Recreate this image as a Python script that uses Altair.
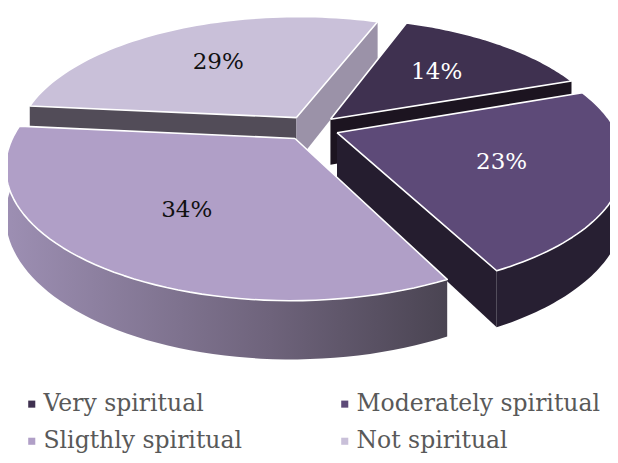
import math
import numpy as np
import pandas as pd
import altair as alt

# ---- data ----
categories = ["Very spiritual", "Moderately spiritual", "Sligthly spiritual", "Not spiritual"]
shares = [14, 23, 34, 29]
pct_labels = ["14%", "23%", "34%", "29%"]

# ---- styles ----
top_colors = ["#3f3150", "#5d4a78", "#b09fc7", "#c9c0d9"]
label_colors = ["#ffffff", "#ffffff", "#111111", "#111111"]
side_colors = {
    ("Not spiritual", "start"): "#524c58",
    ("Not spiritual", "end"): "#9b92a8",
    ("Very spiritual", "end"): "#1c1420",
    ("Moderately spiritual", "end"): "#251d2f",
    ("Moderately spiritual", "rim"): "#271f32",
    ("Sligthly spiritual", "rim"): alt.Gradient(
        gradient="linear",
        stops=[alt.GradientStop(color="#9d8fb3", offset=0),
               alt.GradientStop(color="#6e637b", offset=0.6),
               alt.GradientStop(color="#4a4452", offset=1)],
        x1=0, x2=1, y1=0, y2=0),
}

# ---- 3-D view settings ----
CX, CY = 311.0, 128.0
RX, RY = 278.0, 125.0
PERSP = 0.2
DEPTH = 46.0
EXPLODE = 0.1
START = 20.0
N = 60
LABEL_R = 0.6


def point(u, v, bottom=False):
    s = 1.0 / (1.0 - PERSP * v)
    x, y = CX + RX * u * s, CY + RY * v * s
    if bottom:
        y += DEPTH * s
    return x, y


total = float(sum(shares))
tops, faces, labels = [], [], []
acc = START
for cat, sh, lab in zip(categories, shares, pct_labels):
    a1, a2 = acc, acc + 360.0 * sh / total
    acc = a2
    m = math.radians((a1 + a2) / 2)
    ox, oy = EXPLODE * math.sin(m), -EXPLODE * math.cos(m)

    def uv(deg):
        r = math.radians(deg)
        return ox + math.sin(r), oy - math.cos(r)

    apex_t = point(ox, oy)
    apex_b = point(ox, oy, True)
    pts = [apex_t] + [point(*uv(p)) for p in np.linspace(a1, a2, N)] + [apex_t]
    for i, (x, y) in enumerate(pts):
        tops.append({"category": cat, "i": i, "x": x, "y": y, "depth": apex_t[1]})

    slice_faces = []
    lo, hi = max(a1, 90.0), min(a2, 270.0)
    if hi > lo:
        rim = [point(*uv(p)) for p in np.linspace(lo, hi, N)] + \
              [point(*uv(p), True) for p in np.linspace(hi, lo, N)]
        slice_faces.append(("rim", rim))
    if math.sin(math.radians(a1)) < 0:
        slice_faces.append(("start", [apex_t, point(*uv(a1)), point(*uv(a1), True), apex_b]))
    if math.sin(math.radians(a2)) > 0:
        slice_faces.append(("end", [apex_t, point(*uv(a2)), point(*uv(a2), True), apex_b]))
    for fname, fpts in slice_faces:
        for i, (x, y) in enumerate(fpts):
            faces.append({"category": cat, "face": fname, "i": i, "x": x, "y": y,
                          "depth": apex_t[1]})

    lu = ox + LABEL_R * math.sin(m)
    lv = oy - LABEL_R * math.cos(m)
    lx, ly = point(lu, lv)
    labels.append({"category": cat, "label": lab, "x": lx, "y": ly})

top_df = pd.DataFrame(tops)
face_df = pd.DataFrame(faces)
label_df = pd.DataFrame(labels)

xenc = alt.X("x:Q", scale=alt.Scale(domain=[8, 610], nice=False, zero=False), axis=None)
yenc = alt.Y("y:Q", scale=alt.Scale(domain=[8, 455], nice=False, zero=False, reverse=True), axis=None)

layers = []
order_cats = sorted(categories, key=lambda c: top_df[top_df.category == c].depth.iloc[0])
for cat in order_cats:
    sub = face_df[face_df.category == cat]
    for fname in sub.face.unique():
        fd = sub[sub.face == fname]
        col = side_colors.get((cat, fname), "#2a2230")
        layers.append(
            alt.Chart(fd).mark_line(fill=col, strokeOpacity=0, interpolate="linear")
            .encode(x=xenc, y=yenc, order=alt.Order("i:Q"))
        )

top_layer = alt.Chart(top_df).mark_line(stroke="white", strokeWidth=1.6, strokeJoin="round").encode(
    x=xenc, y=yenc, order=alt.Order("i:Q"),
    fill=alt.Fill("category:N", sort=categories,
                  scale=alt.Scale(domain=categories, range=top_colors),
                  legend=alt.Legend(title=None, orient="none", legendX=12, legendY=384,
                                    direction="horizontal",
                                    columns=2, columnPadding=91, rowPadding=12.5,
                                    symbolType="square", symbolSize=50, symbolStrokeWidth=0,
                                    labelFont="DejaVu Serif", labelFontSize=23.5,
                                    labelColor="#595959", labelOffset=0, padding=0,
                                    labelLimit=400)),
)
layers.append(top_layer)

text_layer = alt.Chart(label_df).mark_text(font="DejaVu Serif", fontSize=23, baseline="middle", align="center").encode(
    x=xenc, y=yenc, text="label:N",
    color=alt.Color("category:N", scale=alt.Scale(domain=categories, range=label_colors), legend=None),
)
layers.append(text_layer)

chart = alt.layer(*layers).properties(
    width=602, height=447, padding=0, autosize="none"
).configure_view(stroke=None)

chart.save("out.html", embed_options={"renderer": "svg", "actions": False})
